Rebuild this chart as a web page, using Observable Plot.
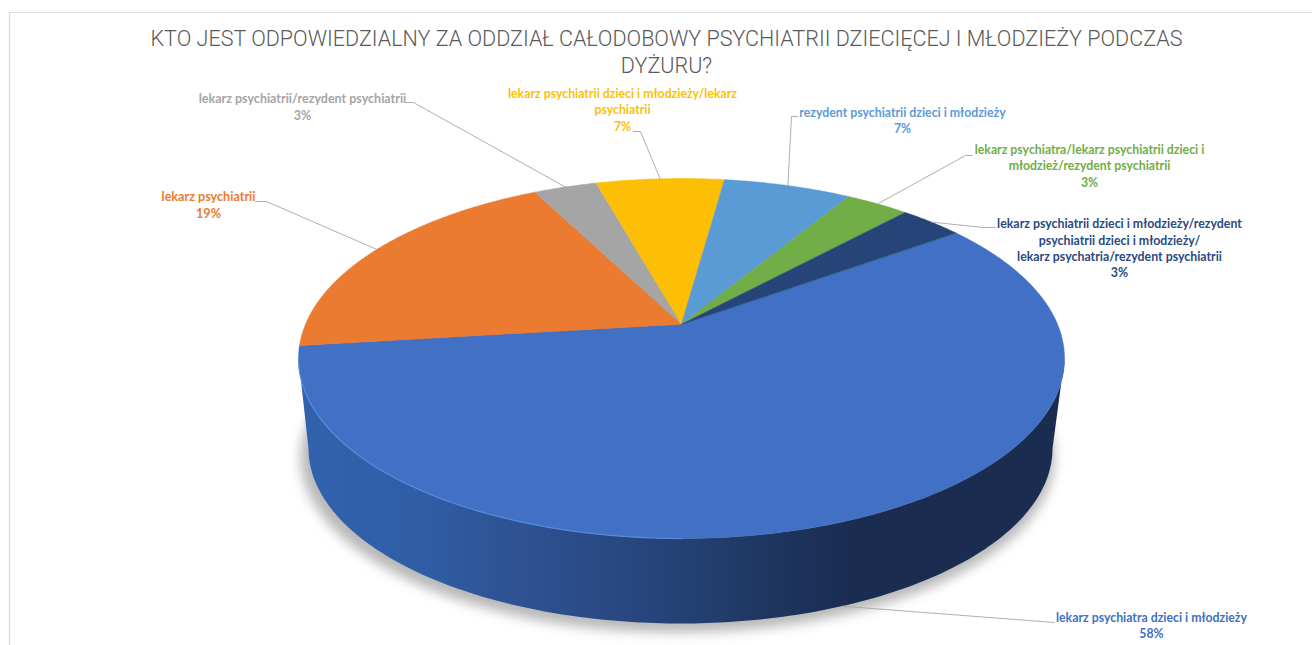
<!DOCTYPE html>
<html lang="pl">
<head>
<meta charset="utf-8">
<script src="https://cdn.jsdelivr.net/npm/d3@7"></script>
<script src="https://cdn.jsdelivr.net/npm/@observablehq/plot@0.6"></script>
<style>
html,body{margin:0;padding:0;background:#fff;overflow:hidden}
[aria-label="shadow"]{filter:blur(6px)}
</style>
</head>
<body>
<div id="chart"></div>
<script>
// ---- data, clockwise from the start of the largest slice ----
const categories = [
  "lekarz psychiatra dzieci i młodzieży",
  "lekarz psychiatrii",
  "lekarz psychiatrii/rezydent psychiatrii",
  "lekarz psychiatrii dzieci i młodzieży/lekarz\npsychiatrii",
  "rezydent psychiatrii dzieci i młodzieży",
  "lekarz psychiatra/lekarz psychiatrii dzieci i\nmłodzież/rezydent psychiatrii",
  "lekarz psychiatrii dzieci i młodzieży/rezydent\npsychiatrii dzieci i młodzieży/\nlekarz psychatria/rezydent psychiatrii"
];
const values = [58.1, 19.4, 3.2, 6.5, 6.5, 3.2, 3.2];
const colors = ["#4170c4", "#ea7b31", "#a5a5a5", "#fdbf05", "#5b9bd5", "#70ad47", "#264478"];
const titleText = "KTO JEST ODPOWIEDZIALNY ZA ODDZIAŁ CAŁODOBOWY PSYCHIATRII DZIECIĘCEJ I MŁODZIEŻY PODCZAS\nDYŻURU?";

// ---- layout ----
const W = 1312, H = 645;
const topE = {cx: 681, cy: 358, rx: 383, ry: 180};
const botE = {cx: 680, cy: 448, rx: 372, ry: 175};
const k = 0.19, startDeg = 54.2;              // perspective tilt, first slice angle
const labelPos = [[1151, 618], [208, 197], [302, 99], [622, 94], [902, 113], [1089, 150], [1119, 224]];
const labelSize = [12.3, 12.6, 12.5, 12.3, 12.3, 12.3, 12.35];
const elbow = [[1054, 622], [266, 201], [413, 102], [640, 131], [791, 116], [965, 155], [983, 227]];
const elbow0 = [[1054, 622], [255, 201], [405, 102], [633, 131], [797, 116], [972, 155], [995, 227]];

// true pie angle (deg, clockwise from top) -> normalised ellipse position
function project(deg) {
  const a = deg * Math.PI / 180, x = Math.sin(a), y = Math.cos(a), d = 1 + k * y;
  return [x * Math.sqrt(1 - k * k) / d, (y + k) / d];
}
const onEllipse = (e, p) => [e.cx + e.rx * p[0], e.cy - e.ry * p[1]];

const total = d3.sum(values);
let acc = startDeg;
const slices = values.map((v, i) => {
  const a0 = acc, a1 = acc + v / total * 360; acc = a1;
  return {i, a0, a1, mid: (a0 + a1) / 2, color: colors[i]};
});
const apex = onEllipse(topE, [0, k]);

const facePts = slices.flatMap(s => {
  const n = Math.ceil((s.a1 - s.a0) / 0.5);
  const rim = d3.range(n + 1).map(t => onEllipse(topE, project(s.a0 + (s.a1 - s.a0) * t / n)));
  return [apex, ...rim].map(p => ({x: p[0], y: p[1], z: s.i, color: s.color}));
});

// rim side: one band between the two lower half ellipses, shaded by a gradient
const gradientStops = [[0, "#3262ae"], [0.16, "#2f5ea6"], [0.26, "#2f5496"], [0.46, "#27457b"], [0.6, "#1f3763"], [0.72, "#1a2c50"], [1, "#1a2c50"]];
const N = 180;
const ell = (e, t) => [e.cx + e.rx * Math.cos(t), e.cy + e.ry * Math.sin(t)];
const tRange = d3.range(N + 1).map(i => Math.PI * i / N);
const sidePts = [...tRange.map(t => ell(topE, t)), ...tRange.slice().reverse().map(t => ell(botE, t))]
  .map(p => ({x: p[0], y: p[1]}));
const shadowPts = d3.range(0, 360, 3).map(d => {
  const t = d * Math.PI / 180;
  return {x: botE.cx - 3 + (botE.rx + 5) * Math.cos(t), y: botE.cy + 9 + botE.ry * Math.sin(t)};
});
const glowPts = d3.range(0, 60).map(i => {
  const t = Math.PI - Math.PI * 0.5 * i / 59;
  const p = ell(topE, t);
  return {x: p[0], y: p[1]};
});

// leader lines end on the rim at each slice's middle
const leaders = slices.flatMap(s => {
  const p = project(s.mid);
  const end = s.i === 0 ? onEllipse(botE, p) : onEllipse(topE, p);
  return [elbow0[s.i], elbow[s.i], end].map(q => ({x: q[0], y: q[1], z: s.i}));
});
const labels = slices.map(s => ({
  x: labelPos[s.i][0], y: labelPos[s.i][1], size: labelSize[s.i],
  text: categories[s.i] + "\n" + Math.round(values[s.i]) + "%", color: s.color === "#264478" ? "#2a4a82" : s.color
}));

const gradient = () => {
  const ns = "http://www.w3.org/2000/svg";
  const defs = document.createElementNS(ns, "defs");
  const g = document.createElementNS(ns, "linearGradient");
  g.setAttribute("id", "rimShade");
  gradientStops.forEach(([o, c]) => {
    const s = document.createElementNS(ns, "stop");
    s.setAttribute("offset", o);
    s.setAttribute("stop-color", c);
    g.appendChild(s);
  });
  defs.appendChild(g);
  return defs;
};

const chart = Plot.plot({
  width: W, height: H, margin: 0,
  x: {domain: [0, W], range: [0, W], axis: null},
  y: {domain: [0, H], range: [0, H], axis: null},
  style: {background: "#fff"},
  marks: [
    gradient,
    Plot.ruleY([12], {x1: 9, x2: W, stroke: "#d9d9d9", strokeWidth: 1.2}),
    Plot.ruleX([9], {y1: 12, y2: H, stroke: "#d9d9d9", strokeWidth: 1.2}),
    Plot.line(shadowPts, {x: "x", y: "y", fill: "#9a9a9a", stroke: "none", curve: "linear-closed", ariaLabel: () => "shadow", fillOpacity: 0.7}),
    Plot.line(sidePts, {x: "x", y: "y", fill: "url(#rimShade)", stroke: "none", curve: "linear-closed"}),
    Plot.line(facePts, {x: "x", y: "y", z: "z", fill: "color", stroke: "color", strokeWidth: 0.5, curve: "linear-closed"}),
    Plot.line(glowPts, {x: "x", y: "y", stroke: "#5c90e4", strokeWidth: 1.3, strokeOpacity: 0.75}),
    Plot.line(leaders, {x: "x", y: "y", z: "z", stroke: "#a6a6a6", strokeWidth: 0.9}),
    Plot.text(labels, {x: "x", y: "y", text: "text", fill: "color", lineHeight: 1.33, fontSize: "size",
      textAnchor: "middle", lineAnchor: "top", dy: -8, fontFamily: "Lato", fontWeight: 700}),
    Plot.text([titleText], {x: () => 666, y: () => 37, text: d => d, lineAnchor: "top", dy: -11, lineHeight: 1.26, textAnchor: "middle",
      fill: "#595959", fontFamily: "Roboto", fontWeight: 300, fontSize: 21.55})
  ]
});
document.getElementById("chart").appendChild(chart);
</script>
</body>
</html>
